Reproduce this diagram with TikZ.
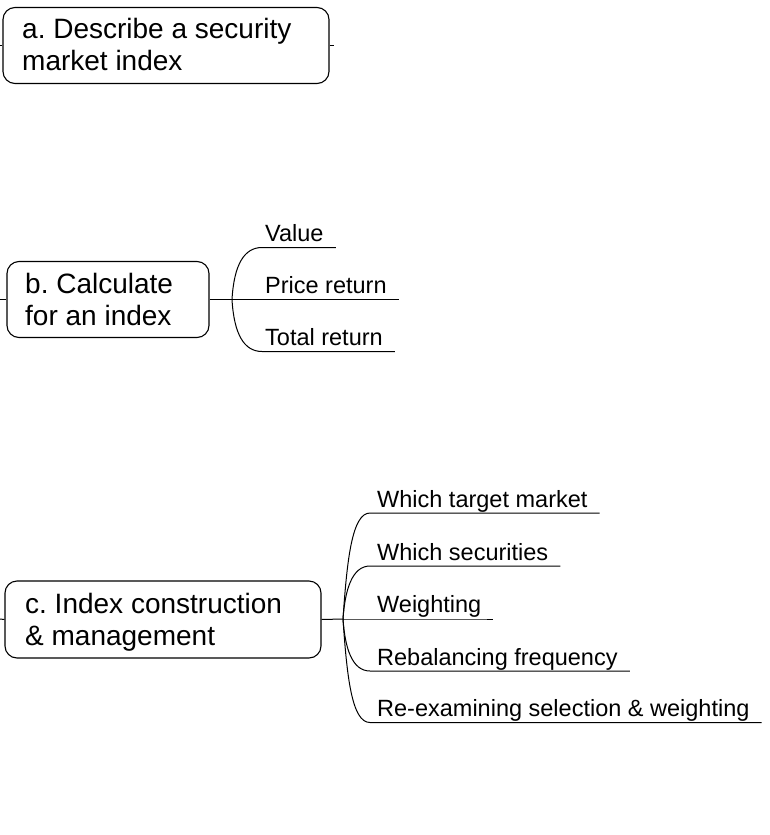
\documentclass[tikz,border=0pt]{standalone}
\usepackage{fontspec}
\setmainfont{Liberation Sans}
\frenchspacing
\begin{document}
\begin{tikzpicture}[x=1pt,y=-1pt,
  topic/.style={draw, line width=1.1pt, rounded corners=12pt, inner sep=0pt},
  topictext/.style={anchor=north west, inner sep=0pt, align=left,
    font=\fontsize{28}{32}\selectfont},
  subtext/.style={anchor=base west, inner sep=0pt,
    font=\fontsize{23.5}{27}\selectfont},
  link/.style={line width=1pt},
]
\useasboundingbox (0,0) rectangle (769,835);

% --- topic a ---
\node[topic, minimum width=326pt, minimum height=76pt] (A) at (166,45.5) {};
\node[topictext] (Atxt) at (22,14) {\rule{0pt}{24pt}a. Describe a security\\market index};
\coordinate (a-in) at (0,45.5);
\coordinate (a-out) at (334,45.5);
\draw[link] (a-in) -- (A.west);
\draw[link] (A.east) -- (a-out);

% --- topic b ---
\node[topic, minimum width=202pt, minimum height=76pt] (B) at (108,299.5) {};
\node[topictext] (Btxt) at (25,269) {\rule{0pt}{24pt}b. Calculate\\for an index};
\coordinate (b-in) at (0,299.5);
\coordinate (jb) at (232,299.5);
\draw[link] (b-in) -- (B.west);
\draw[link] (B.east) -- (jb);

\node[subtext] (b1) at (265,241) {Value};
\node[subtext] (b2) at (265,293.5) {Price return};
\node[subtext] (b3) at (265,345) {Total return};
\coordinate (b1s) at (262,247.5);
\coordinate (b3s) at (262,351.5);
\draw[link] (jb) .. controls (234,265) and (244,247.5) .. (b1s) -- (b1s -| b1.east) -- ++(12,0);
\draw[link] (jb) -- (jb -| b2.east) -- ++(12,0);
\draw[link] (jb) .. controls (234,334) and (244,351.5) .. (b3s) -- (b3s -| b3.east) -- ++(12,0);

% --- topic c ---
\node[topic, minimum width=316pt, minimum height=77pt] (C) at (163,619.5) {};
\node[topictext] (Ctxt) at (25,589) {\rule{0pt}{24pt}c. Index construction\\\& management};
\coordinate (c-in) at (0,619);
\coordinate (jc) at (343,619);
\draw[link] (c-in) -- (C.west);
\draw[link] (C.east) -- (jc);

\node[subtext] (c1) at (377,507) {Which target market};
\node[subtext] (c2) at (377,560) {Which securities};
\node[subtext] (c3) at (377,612.5) {Weighting};
\node[subtext] (c4) at (377,665) {Rebalancing frequency};
\node[subtext] (c5) at (377,716.5) {Re-examining selection \& weighting};
\coordinate (c1s) at (370,513);
\coordinate (c2s) at (370,566);
\coordinate (c4s) at (370,671);
\coordinate (c5s) at (370,722.5);
\draw[link] (jc) .. controls (347,560) and (352,513) .. (c1s) -- (c1s -| c1.east) -- ++(12,0);
\draw[link] (jc) .. controls (345,590) and (352,566) .. (c2s) -- (c2s -| c2.east) -- ++(12,0);
\draw[link] (jc) -- (jc -| c3.east) -- ++(12,0);
\draw[link] (jc) .. controls (345,648) and (352,671) .. (c4s) -- (c4s -| c4.east) -- ++(12,0);
\draw[link] (jc) .. controls (347,678) and (352,722.5) .. (c5s) -- (c5s -| c5.east) -- ++(12,0);
\end{tikzpicture}
\end{document}
